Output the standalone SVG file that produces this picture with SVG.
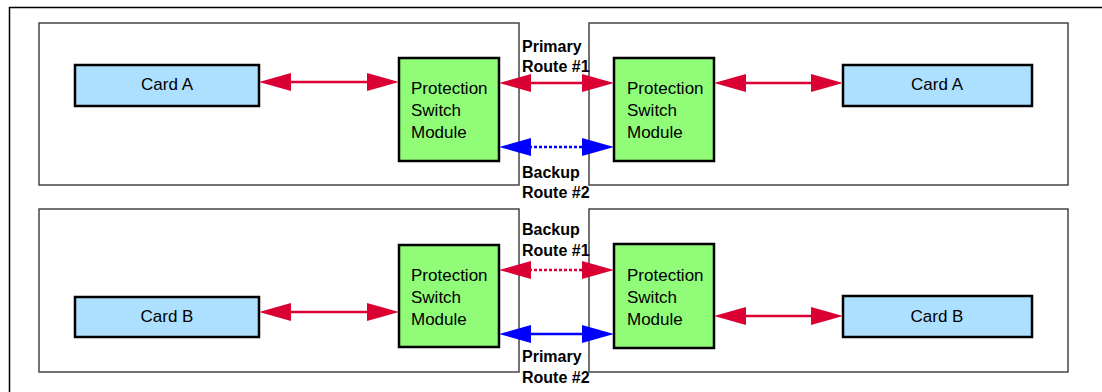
<svg xmlns="http://www.w3.org/2000/svg" width="1102" height="392" viewBox="0 0 1102 392">
<defs>
<marker id="ar" markerUnits="userSpaceOnUse" markerWidth="32" markerHeight="18" refX="22" refY="9" orient="auto-start-reverse" viewBox="0 0 32 18"><path d="M0,0 L32,9 L0,18 z" fill="#DA0033"/></marker>
<marker id="ab" markerUnits="userSpaceOnUse" markerWidth="32" markerHeight="18" refX="22" refY="9" orient="auto-start-reverse" viewBox="0 0 32 18"><path d="M0,0 L32,9 L0,18 z" fill="#0000FF"/></marker>
</defs>
<style>
.frame{fill:none;stroke:#000;stroke-width:1.5}
.panel{fill:#fff;stroke:#444;stroke-width:1.5}
.card{fill:#ADE0FF;stroke:#000;stroke-width:2.5}
.psm{fill:#90FC78;stroke:#000;stroke-width:2.5}
.t{font-family:"Liberation Sans",Arial,sans-serif;font-size:17px;fill:#000}
.lbl{font-family:"Liberation Sans",Arial,sans-serif;font-size:16px;font-weight:bold;fill:#000}
.r{stroke:#DA0033;stroke-width:2.5;fill:none;marker-start:url(#ar);marker-end:url(#ar)}
.b{stroke:#0000FF;stroke-width:2.5;fill:none;marker-start:url(#ab);marker-end:url(#ab)}
.d{stroke-dasharray:3,2}
</style>
<rect class="frame" x="9.5" y="7.5" width="1100" height="400"/>
<g id="panel-top-left"><rect class="panel" x="39" y="23" width="480" height="162"/></g>
<g id="panel-top-right"><rect class="panel" x="589" y="23" width="479" height="162"/></g>
<g id="panel-bottom-left"><rect class="panel" x="39" y="209" width="480" height="163"/></g>
<g id="panel-bottom-right"><rect class="panel" x="589" y="209" width="479" height="163"/></g>

<g id="cardA-left"><rect class="card" x="75" y="65" width="184" height="41"/><text class="t" x="167" y="90" text-anchor="middle">Card A</text></g>
<g id="cardA-right"><rect class="card" x="843" y="65" width="189" height="41"/><text class="t" x="937" y="90" text-anchor="middle">Card A</text></g>
<g id="cardB-left"><rect class="card" x="75" y="297" width="184" height="40"/><text class="t" x="167" y="322" text-anchor="middle">Card B</text></g>
<g id="cardB-right"><rect class="card" x="843" y="296" width="189" height="41"/><text class="t" x="937" y="322" text-anchor="middle">Card B</text></g>

<g id="psm-top-left"><rect class="psm" x="399" y="58" width="100" height="103"/><text class="t" x="411" y="94">Protection</text><text class="t" x="411" y="116">Switch</text><text class="t" x="411" y="138">Module</text></g>
<g id="psm-top-right"><rect class="psm" x="614" y="58" width="100" height="103"/><text class="t" x="627" y="94">Protection</text><text class="t" x="627" y="116">Switch</text><text class="t" x="627" y="138">Module</text></g>
<g id="psm-bottom-left"><rect class="psm" x="399" y="245" width="100" height="102"/><text class="t" x="411" y="281">Protection</text><text class="t" x="411" y="303">Switch</text><text class="t" x="411" y="325">Module</text></g>
<g id="psm-bottom-right"><rect class="psm" x="614" y="244" width="100" height="104"/><text class="t" x="627" y="281">Protection</text><text class="t" x="627" y="303">Switch</text><text class="t" x="627" y="325">Module</text></g>

<g id="connectors">
<line class="r" x1="269" y1="82" x2="389" y2="82"/>
<line class="r" x1="724" y1="83" x2="833" y2="83"/>
<line class="r" x1="509" y1="83" x2="604" y2="83"/>
<line class="b d" x1="509" y1="147" x2="604" y2="147"/>
<line class="r" x1="269" y1="312" x2="389" y2="312"/>
<line class="r" x1="724" y1="316" x2="833" y2="316"/>
<line class="r d" x1="509" y1="270" x2="604" y2="270"/>
<line class="b" x1="509" y1="334" x2="604" y2="334"/>
</g>

<g id="labels">
<text class="lbl" x="522" y="52">Primary</text>
<text class="lbl" x="522" y="72">Route #1</text>
<text class="lbl" x="522" y="178">Backup</text>
<text class="lbl" x="522" y="198">Route #2</text>
<text class="lbl" x="522" y="235">Backup</text>
<text class="lbl" x="522" y="256">Route #1</text>
<text class="lbl" x="522" y="362">Primary</text>
<text class="lbl" x="522" y="383">Route #2</text>
</g>
</svg>
